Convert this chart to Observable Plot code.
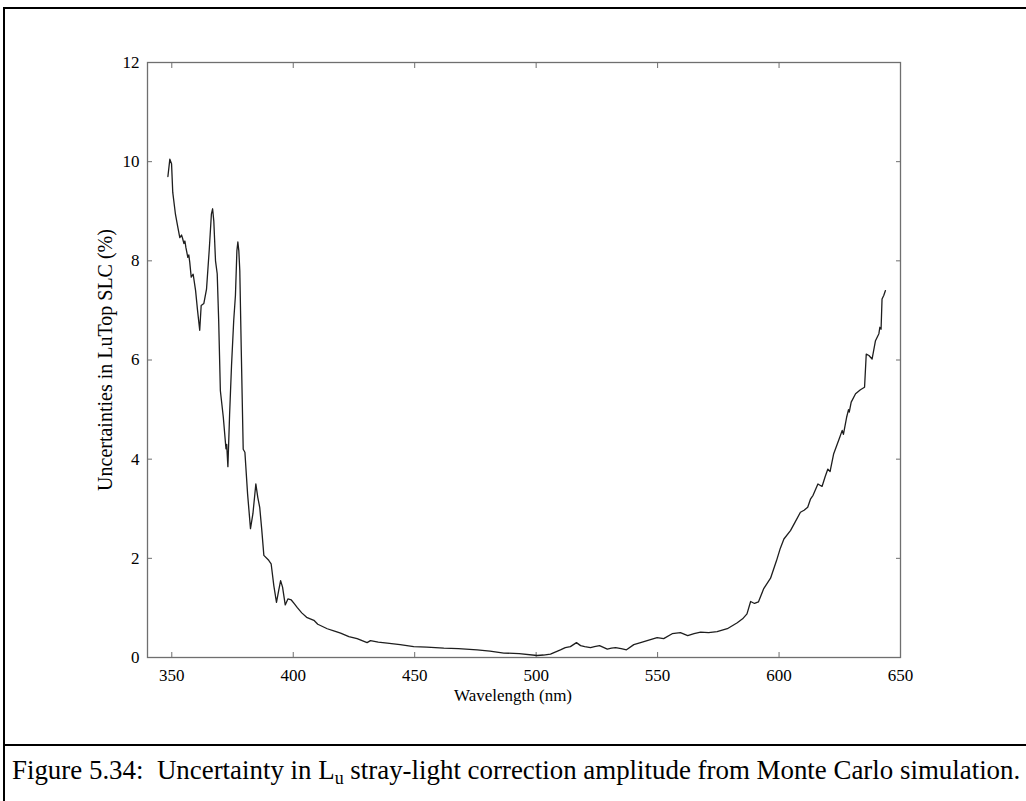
<!DOCTYPE html>
<html>
<head>
<meta charset="utf-8">
<script src="https://cdn.jsdelivr.net/npm/d3@7"></script>
<script src="https://cdn.jsdelivr.net/npm/@observablehq/plot@0.6"></script>
<style>
  html, body { margin: 0; padding: 0; background: #fff; }
  #page { position: relative; width: 1026px; height: 801px; overflow: hidden; font-family: "Liberation Serif", "Times New Roman", serif; }
  #frame { position: absolute; left: 3px; top: 7px; width: 1100px; height: 900px; border-left: 2px solid #000; border-top: 2px solid #000; box-sizing: border-box; pointer-events: none; }
  #sep { position: absolute; left: 3px; top: 744px; width: 1100px; height: 0; border-top: 2px solid #000; }
  #chart { position: absolute; left: 0; top: 0; }
  #caption { position: absolute; left: 12px; top: 754px; font-size: 26.9px; line-height: 32px; color: #000; white-space: nowrap; font-family: "Liberation Serif", serif; }
  #caption sub { font-size: 18px; vertical-align: -5px; line-height: 0; }
</style>
</head>
<body>
<div id="page">
  <div id="chart"></div>
  <div id="frame"></div>
  <div id="sep"></div>
  <div id="caption">Figure 5.34:&nbsp; Uncertainty in L<sub>u</sub> stray-light correction amplitude from Monte Carlo simulation.</div>
</div>
<script>
const wavelength = [
  348.4, 349.2, 349.9, 350.4, 351.5, 352.4, 353.3, 354.0, 354.4, 355.0, 355.4, 355.8, 356.6, 357.0, 357.4, 358.0, 358.8, 359.8, 360.6, 361.5,
  362.1, 363.2, 364.3, 365.4, 366.3, 366.8, 367.3, 368.0, 368.7, 369.3, 370.0, 371.2, 372.3, 372.6, 373.1, 373.8, 374.6, 375.5, 376.2, 376.8,
  377.2, 377.6, 378.0, 378.6, 379.0, 379.4, 380.1, 381.2, 382.4, 383.4, 384.6, 385.4, 386.2, 387.0, 387.9, 389.9, 390.9, 392.0, 393.1, 394.0,
  394.8, 395.6, 396.7, 397.8, 399.2, 400.5, 401.6, 403.5, 405.5, 408.5, 410.1, 414.0, 417.0, 419.5, 422.9, 426.3, 430.4, 431.8, 435.0, 438.7,
  444.0, 449.6, 455.0, 462.0, 468.0, 475.7, 481.0, 486.7, 493.0, 500.4, 503.0, 505.9, 510.0, 512.0, 514.1, 516.6, 518.3, 520.0, 522.4, 524.0,
  526.1, 529.3, 531.0, 532.7, 535.0, 537.2, 540.2, 543.0, 545.7, 549.8, 552.5, 556.0, 559.4, 562.4, 565.0, 567.7, 571.0, 574.5, 578.7, 582.8,
  585.0, 586.8, 588.3, 589.9, 591.5, 593.7, 596.5, 599.0, 600.5, 602.0, 604.7, 606.5, 608.8, 610.3, 611.8, 613.0, 614.0, 616.0, 617.7, 619.0,
  620.1, 621.0, 622.5, 625.0, 626.0, 626.5, 627.8, 628.6, 628.9, 629.7, 631.5, 633.5, 635.2, 635.9, 637.0, 638.3, 639.7, 641.1, 641.5, 642.0,
  642.4, 643.1, 643.8
];
const uncertainty = [
  9.70, 10.05, 9.96, 9.38, 8.94, 8.70, 8.47, 8.52, 8.46, 8.35, 8.40, 8.27, 8.07, 8.12, 7.97, 7.67, 7.73, 7.40, 7.00, 6.60,
  7.10, 7.14, 7.43, 8.21, 8.94, 9.05, 8.80, 8.00, 7.74, 6.80, 5.38, 4.85, 4.21, 4.30, 3.85, 4.90, 5.90, 6.80, 7.30, 8.20,
  8.38, 8.20, 7.80, 6.20, 5.20, 4.20, 4.14, 3.30, 2.60, 2.90, 3.50, 3.23, 3.03, 2.60, 2.06, 1.96, 1.89, 1.45, 1.11, 1.35,
  1.55, 1.42, 1.06, 1.18, 1.16, 1.08, 1.01, 0.90, 0.81, 0.75, 0.67, 0.58, 0.53, 0.49, 0.42, 0.38, 0.30, 0.34, 0.31, 0.29,
  0.26, 0.22, 0.21, 0.19, 0.18, 0.155, 0.13, 0.09, 0.08, 0.04, 0.05, 0.07, 0.155, 0.20, 0.22, 0.30, 0.24, 0.22, 0.20, 0.22,
  0.24, 0.17, 0.19, 0.20, 0.18, 0.155, 0.26, 0.30, 0.34, 0.40, 0.38, 0.48, 0.50, 0.44, 0.48, 0.51, 0.50, 0.52, 0.58, 0.70,
  0.78, 0.88, 1.13, 1.09, 1.12, 1.39, 1.60, 1.96, 2.20, 2.39, 2.56, 2.72, 2.93, 2.97, 3.03, 3.20, 3.27, 3.50, 3.45, 3.65,
  3.80, 3.75, 4.11, 4.44, 4.58, 4.50, 4.84, 5.00, 4.95, 5.15, 5.32, 5.40, 5.45, 6.12, 6.09, 6.02, 6.39, 6.53, 6.66, 6.62,
  7.23, 7.30, 7.40
];
const xTicks = [350, 400, 450, 500, 550, 600, 650];
const yTicks = [0, 2, 4, 6, 8, 10, 12];
const xLabel = "Wavelength (nm)";
const yLabel = "Uncertainties in LuTop SLC (%)";

const data = wavelength.map((w, i) => ({w, u: uncertainty[i]}));
const font = "Liberation Serif, Times New Roman, serif";
const axisColor = "#6f6f6f";

const chart = Plot.plot({
  width: 1026,
  height: 745,
  marginLeft: 147,
  marginRight: 126,
  marginTop: 62,
  marginBottom: 88,
  style: {background: "none", fontFamily: font, fontSize: "17px", color: "#000"},
  x: {domain: [340, 650], ticks: xTicks},
  y: {domain: [0, 12], ticks: yTicks},
  marks: [
    Plot.frame({stroke: axisColor, strokeWidth: 1.3}),
    Plot.axisX({ticks: xTicks, tickSize: -5, tickPadding: 16, label: null, stroke: axisColor, fill: "#000", fontSize: 17}),
    Plot.axisX({anchor: "top", ticks: xTicks.filter(t => t < 650), tickSize: -5, tickFormat: () => "", label: null, stroke: axisColor}),
    Plot.axisY({ticks: yTicks, tickSize: -5, tickPadding: 13, label: null, stroke: axisColor, fill: "#000", fontSize: 17}),
    Plot.axisY({anchor: "right", ticks: yTicks.filter(t => t > 0 && t < 12), tickSize: -5, tickFormat: () => "", label: null, stroke: axisColor}),
    Plot.line(data, {x: "w", y: "u", stroke: "#1e1e1e", strokeWidth: 1.3}),
    Plot.text([xLabel], {frameAnchor: "bottom", dy: 43, dx: -11, fontSize: 17, fill: "#000"}),
    Plot.text([yLabel], {frameAnchor: "left", textAnchor: "middle", rotate: -90, dx: -42, fontSize: 20, fill: "#000"})
  ]
});
document.getElementById("chart").appendChild(chart);
</script>
</body>
</html>
